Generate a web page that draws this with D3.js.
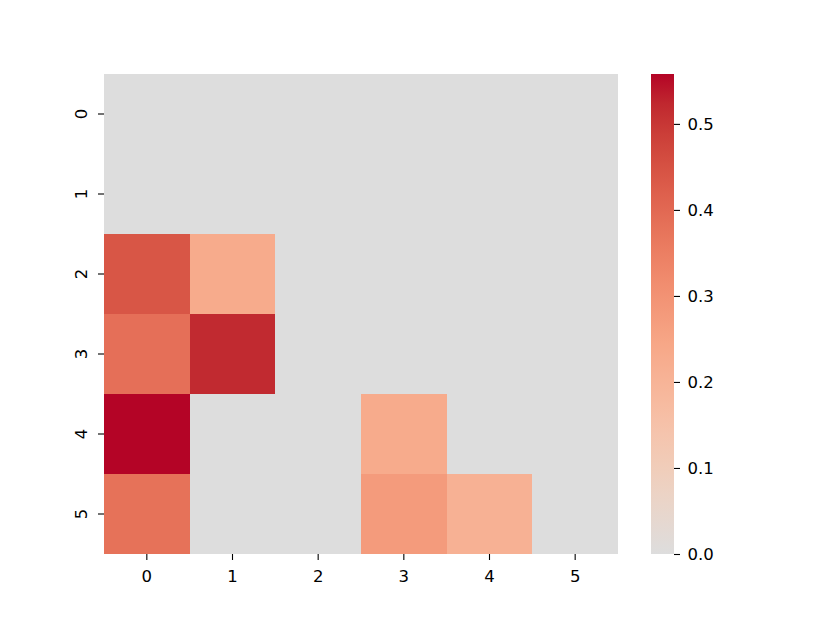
<!DOCTYPE html>
<html>
<head>
    <title>Heatmap</title>
    <script src="https://d3js.org/d3.v7.min.js"></script>
    <style>
        body { margin: 0; background: #fff; }
        text { font-family: "DejaVu Sans", sans-serif; font-size: 16.5px; fill: #000; }
    </style>
</head>
<body>
    <svg id="chart"></svg>
    <script>
        // data
        const rowLabels = ["0", "1", "2", "3", "4", "5"];
        const colLabels = ["0", "1", "2", "3", "4", "5"];
        const values = [
            [0, 0, 0, 0, 0, 0],
            [0, 0, 0, 0, 0, 0],
            [0.44, 0.23, 0, 0, 0, 0],
            [0.385, 0.52, 0, 0, 0, 0],
            [0.558, 0, 0, 0.23, 0, 0],
            [0.38, 0, 0, 0.275, 0.21, 0]
        ];
        const cbarTicks = [0.0, 0.1, 0.2, 0.3, 0.4, 0.5];

        // upper half of matplotlib coolwarm (Moreland), s from 0.5 to 1
        const coolwarmTop = ["#dddddd", "#e5d8d1", "#ecd3c5", "#f1ccb8", "#f5c4ad", "#f7bba0",
            "#f7b194", "#f7a787", "#f49a7b", "#f18d6f", "#ec7f63", "#e57058",
            "#de604d", "#d55042", "#cb3e38", "#c0282f", "#b40426"];

        const width = 830, height = 623;
        const svg = d3.select("#chart").attr("width", width).attr("height", height);

        const mLeft = 104, mRight = 618, mTop = 74, mBottom = 554;

        const x = d3.scaleBand().domain(colLabels).range([mLeft, mRight]);
        const y = d3.scaleBand().domain(rowLabels).range([mTop, mBottom]);

        const vmax = d3.max(values.flat());
        const color = d3.scaleLinear()
            .domain(d3.range(coolwarmTop.length).map(i => i / (coolwarmTop.length - 1) * vmax))
            .range(coolwarmTop)
            .interpolate(d3.interpolateRgb);

        // cells
        const cells = [];
        values.forEach((row, i) => row.forEach((v, j) => cells.push({ r: rowLabels[i], c: colLabels[j], v: v })));

        svg.append("g").selectAll("rect")
            .data(cells)
            .enter().append("rect")
            .attr("x", d => x(d.c))
            .attr("y", d => y(d.r))
            .attr("width", x.bandwidth())
            .attr("height", y.bandwidth())
            .attr("shape-rendering", "crispEdges")
            .attr("fill", d => color(d.v));

        // axes
        const xAxis = svg.append("g")
            .attr("transform", `translate(0,${mBottom})`)
            .call(d3.axisBottom(x).tickSize(6).tickPadding(10));
        xAxis.select(".domain").remove();
        xAxis.selectAll("line").attr("stroke-width", 1.1);

        const yAxis = svg.append("g")
            .attr("transform", `translate(${mLeft},0)`)
            .call(d3.axisLeft(y).tickSize(6).tickPadding(6));
        yAxis.select(".domain").remove();
        yAxis.selectAll("line").attr("stroke-width", 1.1);
        yAxis.selectAll("text")
            .attr("x", null)
            .attr("text-anchor", "middle")
            .attr("transform", "translate(-22.3,0) rotate(-90)")
            .attr("dy", "0.35em");

        // colorbar
        const cbLeft = 651, cbWidth = 23;
        const cy = d3.scaleLinear().domain([0, vmax]).range([mBottom, mTop]);
        const defs = svg.append("defs");
        const grad = defs.append("linearGradient")
            .attr("id", "cbgrad")
            .attr("x1", 0).attr("y1", 1).attr("x2", 0).attr("y2", 0);
        coolwarmTop.forEach((c, i) => {
            grad.append("stop")
                .attr("offset", i / (coolwarmTop.length - 1))
                .attr("stop-color", c);
        });
        svg.append("rect")
            .attr("x", cbLeft)
            .attr("y", mTop)
            .attr("width", cbWidth)
            .attr("height", mBottom - mTop)
            .attr("fill", "url(#cbgrad)");

        const cAxis = svg.append("g")
            .attr("transform", `translate(${cbLeft + cbWidth},0)`)
            .call(d3.axisRight(cy).tickValues(cbarTicks).tickFormat(d3.format(".1f")).tickSize(6).tickPadding(7.5));
        cAxis.select(".domain").remove();
        cAxis.selectAll("line").attr("stroke-width", 1.1);
    </script>
</body>
</html>
